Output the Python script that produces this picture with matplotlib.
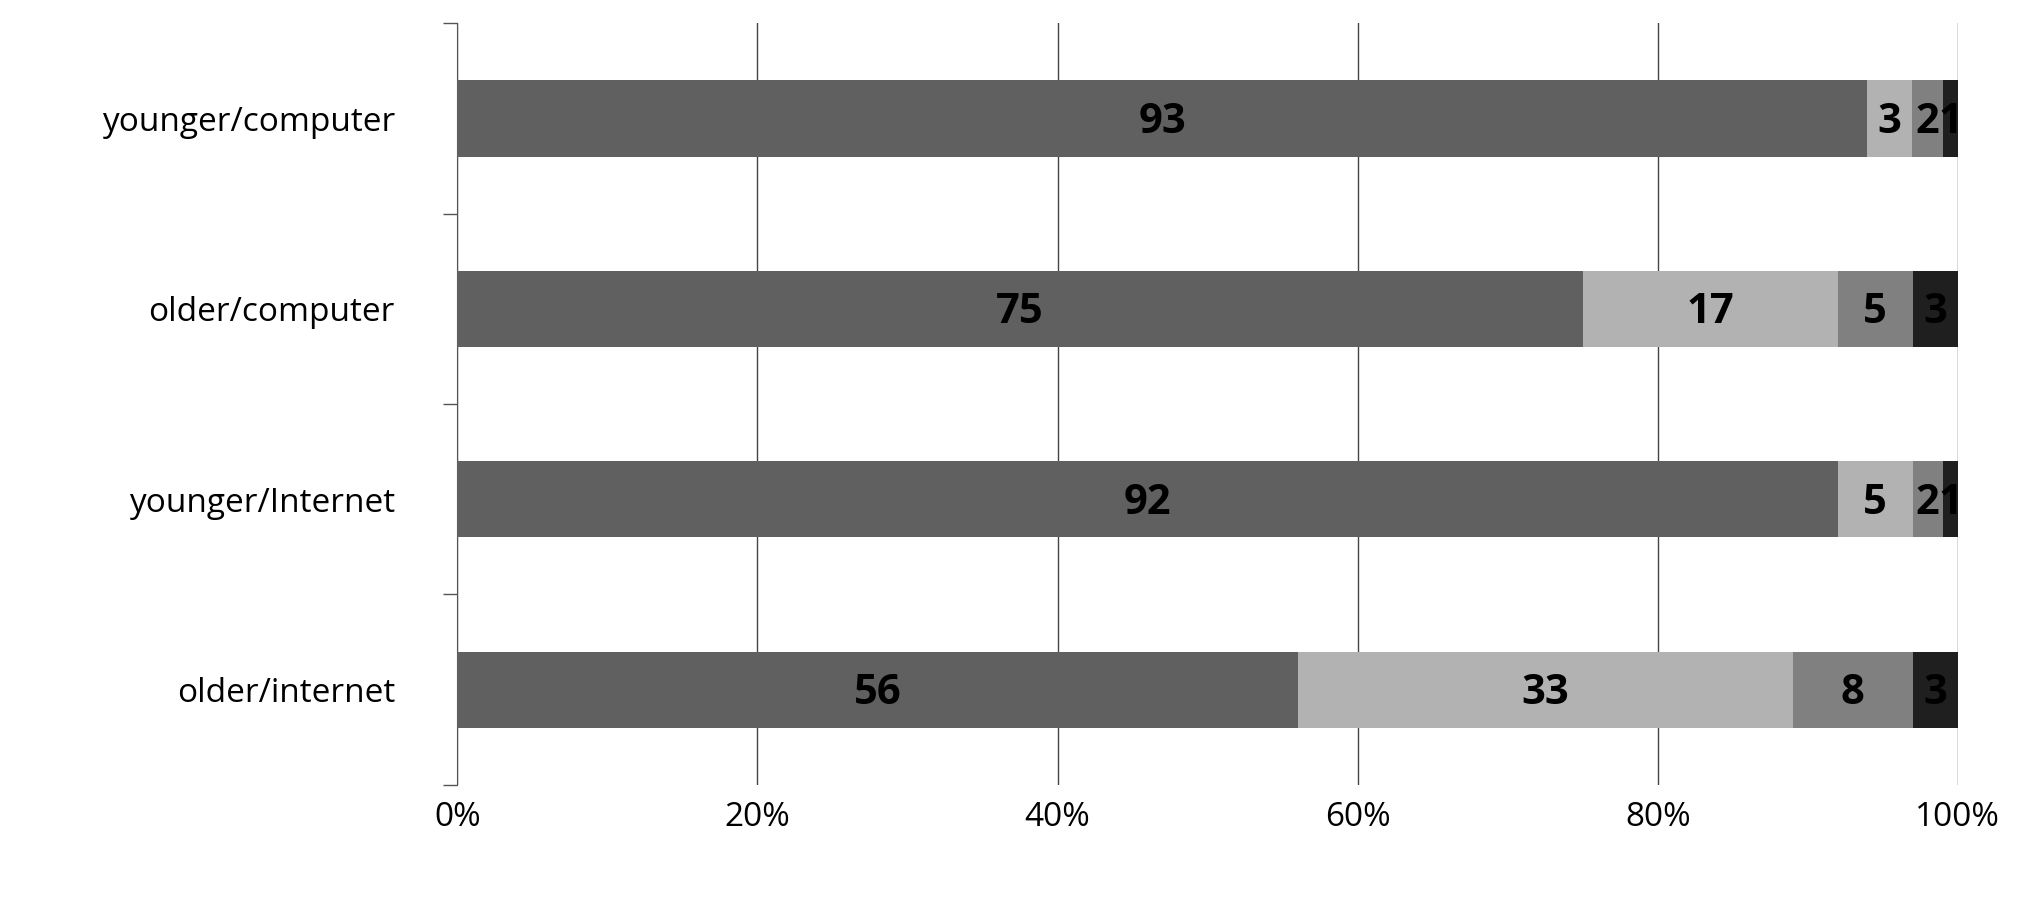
import matplotlib
matplotlib.use("Agg")
import matplotlib.pyplot as plt
import numpy as np

categories = ["younger/computer", "older/computer", "younger/Internet", "older/internet"]
s1 = [93, 75, 92, 56]
s2 = [3, 17, 5, 33]
s3 = [2, 5, 2, 8]
s4 = [1, 3, 1, 3]
colors = ["#606060", "#b2b2b2", "#808080", "#1f1f1f"]
xticklabels = ["0%", "20%", "40%", "60%", "80%", "100%"]

plt.rcParams['font.family'] = ['Open Sans', 'DejaVu Sans']
fig = plt.figure(figsize=(20.33, 8.99), dpi=100)
ax = fig.add_axes([0.225, 0.127, 0.738, 0.847])

data = np.array([s1, s2, s3, s4], dtype=float)
tot = data.sum(axis=0)
frac = data / tot
y = np.arange(len(categories))[::-1]
left = np.zeros(len(categories))
for i in range(4):
    ax.barh(y, frac[i], left=left, height=0.4, color=colors[i], zorder=3)
    for j in range(len(categories)):
        ax.text(left[j] + frac[i][j] / 2, y[j] - 0.02, f"{int(data[i][j])}", ha="center", va="center",
                fontsize=30, fontweight="bold", color="black", zorder=4)
    left += frac[i]

ax.set_xlim(0, 1)
ax.set_ylim(-0.5, 3.5)
ax.set_xticks(np.linspace(0, 1, 6))
ax.set_xticklabels(xticklabels, fontsize=24)
ax.tick_params(axis='x', length=0, pad=12)
ax.set_yticks(y)
ax.set_yticklabels(categories, fontsize=24)
ax.tick_params(axis='y', which='major', length=0, pad=45)
ax.set_yticks(np.arange(-0.5, 4, 1), minor=True)
ax.tick_params(axis='y', which='minor', length=10, direction='out', width=1, color='#555555')
ax.grid(axis='x', color='#444444', linewidth=1, zorder=0)
for s in ['top', 'right', 'bottom']:
    ax.spines[s].set_visible(False)
ax.spines['left'].set_color('#555555')
fig.savefig("out.png", dpi=100)
